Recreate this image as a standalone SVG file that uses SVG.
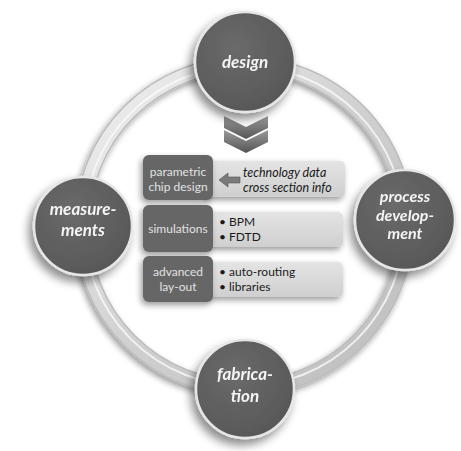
<svg xmlns="http://www.w3.org/2000/svg" width="461" height="451" viewBox="0 0 461 451">
<defs>
<filter id="sh" x="-30%" y="-30%" width="170%" height="170%">
<feGaussianBlur in="SourceAlpha" stdDeviation="5"/>
<feOffset dx="-4" dy="6" result="b"/>
<feComponentTransfer><feFuncA type="linear" slope="0.45"/></feComponentTransfer>
<feMerge><feMergeNode/><feMergeNode in="SourceGraphic"/></feMerge>
</filter>
<filter id="shs" x="-20%" y="-30%" width="140%" height="170%">
<feGaussianBlur in="SourceAlpha" stdDeviation="3"/>
<feOffset dx="-2" dy="3" result="b"/>
<feComponentTransfer><feFuncA type="linear" slope="0.4"/></feComponentTransfer>
<feMerge><feMergeNode/><feMergeNode in="SourceGraphic"/></feMerge>
</filter>
<linearGradient id="ringg" x1="0" y1="0" x2="1" y2="1">
<stop offset="0" stop-color="#f2f2f2"/>
<stop offset="0.5" stop-color="#d0d0d0"/>
<stop offset="1" stop-color="#bdbdbd"/>
</linearGradient>
<linearGradient id="lightg" x1="0" y1="0" x2="0" y2="1">
<stop offset="0" stop-color="#e4e4e4"/>
<stop offset="1" stop-color="#cfcfcf"/>
</linearGradient>
<linearGradient id="chev" x1="0" y1="0" x2="0" y2="1">
<stop offset="0" stop-color="#9a9a9a"/>
<stop offset="1" stop-color="#555555"/>
</linearGradient>
<radialGradient id="circg" cx="0.4" cy="0.35" r="0.7">
<stop offset="0" stop-color="#6a6a6a"/>
<stop offset="1" stop-color="#575757"/>
</radialGradient>
</defs>
<style>
.big{fill:url(#circg);stroke:#e6e6e6;stroke-width:2.5}
.lbl{font-family:Lato,"Open Sans","Liberation Sans",sans-serif;font-weight:bold;font-style:italic;font-size:17px;fill:#f4f4f4;text-anchor:middle}
.lbs{font-size:16px}
.dark{fill:#666666}
.light{fill:url(#lightg)}
.dt{font-family:Lato,"Open Sans","Liberation Sans",sans-serif;font-size:12px;fill:#e2e2e2;text-anchor:middle}
.lt{font-family:Lato,"Open Sans","Liberation Sans",sans-serif;font-size:12px;fill:#1a1a1a}
.it{font-family:Lato,"Open Sans","Liberation Sans",sans-serif;font-size:12.5px;font-style:italic;fill:#1a1a1a}
</style>
<rect width="461" height="451" fill="#ffffff"/>
<g id="connectors">
<circle cx="244" cy="226" r="162" fill="none" stroke="#bcbcbc" stroke-width="16" filter="url(#shs)"/>
<circle cx="244" cy="226" r="162" fill="none" stroke="url(#ringg)" stroke-width="13"/>
<circle cx="244" cy="226" r="160" fill="none" stroke="#fafafa" stroke-width="2" opacity="0.8"/>
<polygon points="224,116 246,127 268,116 268,128 246,139 224,128" fill="url(#chev)"/>
<polygon points="224,130 246,141 268,130 268,142 246,153 224,142" fill="url(#chev)"/>
</g>
<g id="design" filter="url(#sh)">
<circle class="big" cx="245" cy="62" r="50"/>
<text class="lbl" x="245" y="68">design</text>
</g>
<g id="measurements" filter="url(#sh)">
<circle class="big" cx="83" cy="226" r="49"/>
<text class="lbl" x="83" y="215">measure-</text>
<text class="lbl" x="83" y="236">ments</text>
</g>
<g id="process" filter="url(#sh)">
<circle class="big" cx="405" cy="220" r="50"/>
<text class="lbl lbs" x="405" y="202">process</text>
<text class="lbl lbs" x="405" y="220.5">develop-</text>
<text class="lbl lbs" x="405" y="239">ment</text>
</g>
<g id="fabrication" filter="url(#sh)">
<circle class="big" cx="245" cy="389" r="49"/>
<text class="lbl" x="245" y="380">fabrica-</text>
<text class="lbl" x="245" y="402">tion</text>
</g>
<g id="row1">
<rect class="light" x="205" y="161" width="140" height="36" rx="5" filter="url(#shs)"/>
<rect class="dark" x="143" y="155" width="70" height="45" rx="6" filter="url(#shs)"/>
<text class="dt" x="178" y="176">parametric</text>
<text class="dt" x="178" y="191">chip design</text>
<polygon points="219,180 228,173 228,177 240,177 240,183 228,183 228,187" fill="#7a7a7a" stroke="#555" stroke-width="0.6"/>
<text class="it" x="243" y="177">technology data</text>
<text class="it" x="243" y="192">cross section info</text>
</g>
<g id="row2">
<rect class="light" x="205" y="212" width="138" height="35" rx="5" filter="url(#shs)"/>
<rect class="dark" x="143" y="205" width="70" height="47" rx="6" filter="url(#shs)"/>
<text class="dt" x="178" y="233">simulations</text>
<text class="lt" x="219" y="226">• BPM</text>
<text class="lt" x="219" y="241">• FDTD</text>
</g>
<g id="row3">
<rect class="light" x="205" y="262" width="138" height="35" rx="5" filter="url(#shs)"/>
<rect class="dark" x="143" y="256" width="70" height="46" rx="6" filter="url(#shs)"/>
<text class="dt" x="178" y="276">advanced</text>
<text class="dt" x="178" y="291">lay-out</text>
<text class="lt" x="219" y="276">• auto-routing</text>
<text class="lt" x="219" y="291">• libraries</text>
</g>
</svg>
